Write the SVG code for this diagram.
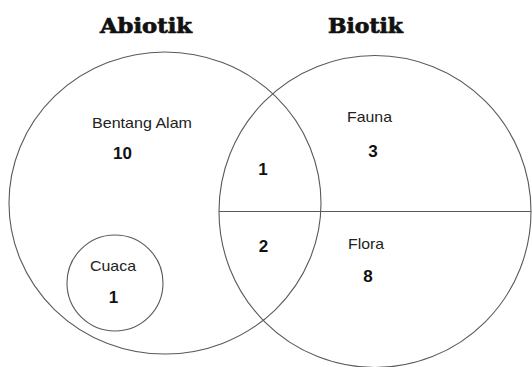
<svg xmlns="http://www.w3.org/2000/svg" width="532" height="367" viewBox="0 0 532 367">
<style>
.c{fill:none;stroke:#5a5a5a;stroke-width:1.1}
.t{font-family:"Liberation Sans",Arial,sans-serif;font-size:14.5px;fill:#222}
.n{font-family:"Liberation Sans",Arial,sans-serif;font-size:17px;font-weight:bold;fill:#111;text-anchor:middle}
.h{font-family:"DejaVu Serif","Liberation Serif",serif;font-size:20px;font-weight:bold;fill:#111;stroke:#111;stroke-width:0.7}
</style>
<rect width="532" height="367" fill="#fff"/>
<g id="abiotik">
<ellipse class="c" cx="165" cy="203" rx="156" ry="151"/>
<text class="h" x="100" y="33" textLength="92" lengthAdjust="spacingAndGlyphs">Abiotik</text>
<text class="t" x="92" y="128" textLength="100" lengthAdjust="spacingAndGlyphs">Bentang Alam</text>
<text class="n" x="122.5" y="159">10</text>
</g>
<g id="biotik">
<circle class="c" cx="375" cy="211.5" r="156"/>
<text class="h" x="328" y="33" textLength="75" lengthAdjust="spacingAndGlyphs">Biotik</text>
<text class="t" x="347" y="122" textLength="45" lengthAdjust="spacingAndGlyphs">Fauna</text>
<text class="n" x="373" y="157">3</text>
<text class="t" x="348" y="249" textLength="36" lengthAdjust="spacingAndGlyphs">Flora</text>
<text class="n" x="368" y="282">8</text>
</g>
<g id="cuaca">
<circle class="c" cx="115" cy="283" r="48"/>
<text class="t" x="90" y="271" textLength="46" lengthAdjust="spacingAndGlyphs">Cuaca</text>
<text class="n" x="113.5" y="303">1</text>
</g>
<g id="irisan">
<text class="n" x="263" y="175">1</text>
<text class="n" x="263.5" y="252">2</text>
</g>
<g id="connectors">
<line class="c" x1="219" y1="211.5" x2="531" y2="211.5"/>
</g>
</svg>
